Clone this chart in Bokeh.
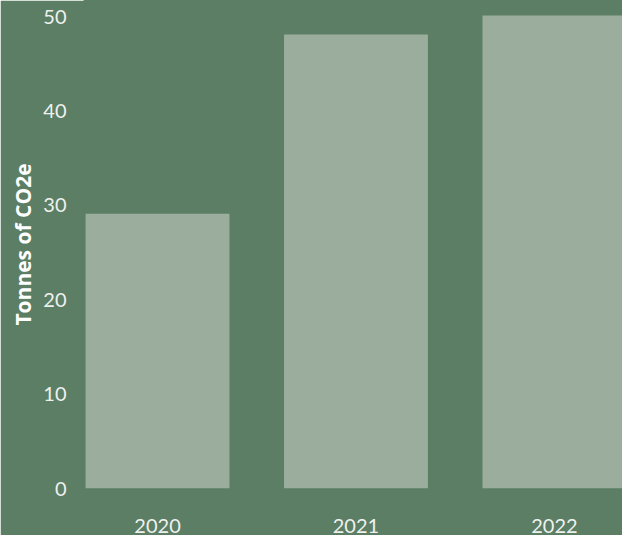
from bokeh.plotting import figure
from bokeh.models import Range1d, FixedTicker, ColumnDataSource
from bokeh.embed import file_html
from bokeh.resources import INLINE

years = ["2020", "2021", "2022"]
tonnes = [29.1, 48.1, 50.1]
y_ticks = [0, 10, 20, 30, 40, 50]

BG = "#5b7e64"
BAR = "#9bae9d"
TXT = "#eef1ee"

pos = list(range(len(years)))
src = ColumnDataSource(dict(x=pos, top=tonnes, year=years))

p = figure(width=622, height=535, output_backend="svg", toolbar_location=None,
           x_range=Range1d(-0.368, 2.343), y_range=Range1d(0, 51.7),
           min_border_left=84, min_border_right=0, min_border_top=0, min_border_bottom=47)
p.vbar(x="x", top="top", bottom=0, width=0.725, source=src, color=BAR, line_color=None)

p.background_fill_color = BG
p.border_fill_color = BG
p.outline_line_color = BG
p.outline_line_width = 2
p.grid.visible = False

p.xaxis.ticker = FixedTicker(ticks=pos)
p.xaxis.major_label_overrides = {i: y for i, y in zip(pos, years)}
p.yaxis.ticker = FixedTicker(ticks=y_ticks)
p.yaxis.axis_label = "Tonnes of CO2e"

for ax in (p.xaxis[0], p.yaxis[0]):
    ax.axis_line_color = None
    ax.major_tick_line_color = None
    ax.minor_tick_line_color = None
    ax.major_label_text_color = TXT
    ax.major_label_text_font = "Lato"
    ax.major_label_text_font_size = "20px"

p.xaxis.major_label_standoff = 24
p.yaxis.major_label_standoff = 12
p.yaxis.axis_label_text_color = "#ffffff"
p.yaxis.axis_label_text_font = "Open Sans"
p.yaxis.axis_label_text_font_style = "bold"
p.yaxis.axis_label_text_font_size = "21px"
p.yaxis.axis_label_standoff = 3

open("out.html", "w").write(file_html(p, INLINE))
